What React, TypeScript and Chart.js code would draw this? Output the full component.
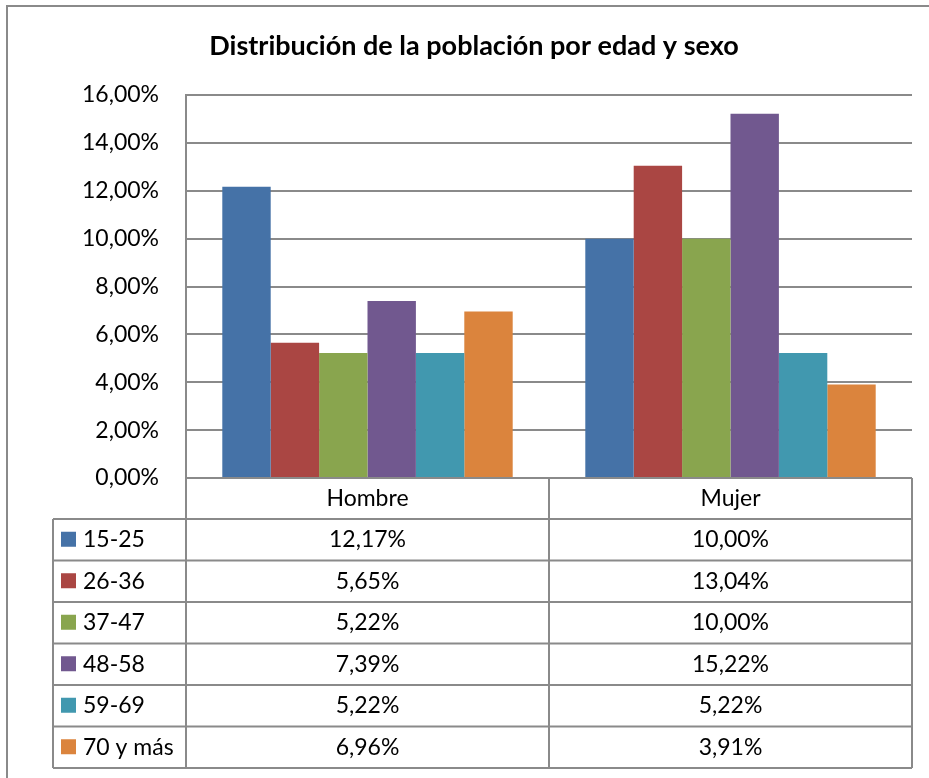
import React, { useEffect, useRef } from 'react';
import { Chart, registerables } from 'chart.js';

Chart.register(...registerables);

const chartTitle = 'Distribución de la población por edad y sexo';
const categories = ['Hombre', 'Mujer'];
const seriesLabels = ['15-25', '26-36', '37-47', '48-58', '59-69', '70 y más'];
const age15to25 = [12.17, 10.0];
const age26to36 = [5.65, 13.04];
const age37to47 = [5.22, 10.0];
const age48to58 = [7.39, 15.22];
const age59to69 = [5.22, 5.22];
const age70plus = [6.96, 3.91];
const seriesValues = [age15to25, age26to36, age37to47, age48to58, age59to69, age70plus];
const seriesColors = ['#4572A7', '#AA4643', '#89A54E', '#71588F', '#4198AF', '#DB843D'];
const yMin = 0;
const yMax = 16;
const yStep = 2;

const FONT = 'Lato, "Open Sans", sans-serif';
const LINE = '#8a8a8a';
const fmt = (v: number) => v.toFixed(2).replace('.', ',') + '%';

const framePlugin = {
  id: 'frameAndTitle',
  beforeDraw(chart: any) {
    const ctx = chart.ctx;
    ctx.save();
    ctx.fillStyle = '#ffffff';
    ctx.fillRect(0, 0, chart.width, chart.height);
    ctx.strokeStyle = LINE;
    ctx.lineWidth = 2;
    ctx.strokeRect(7, 6, chart.width + 20, chart.height + 20);
    ctx.fillStyle = '#000';
    ctx.font = `bold 27px ${FONT}`;
    ctx.textAlign = 'center';
    ctx.textBaseline = 'middle';
    ctx.fillText(chartTitle, 474, 46);
    ctx.restore();
  },
};

const tablePlugin = {
  id: 'dataTable',
  afterDraw(chart: any) {
    const ctx = chart.ctx;
    const { left, right, bottom } = chart.chartArea;
    const xs = chart.scales.x;
    const headerH = 41;
    const rowH = 41.5;
    const legendLeft = 53;
    const n = chart.data.datasets.length;
    const top = bottom;
    const rowsTop = top + headerH;
    const tableBottom = rowsTop + n * rowH;
    const c0 = xs.getPixelForValue(0);
    const c1 = xs.getPixelForValue(1);
    const mid = (c0 + c1) / 2;

    ctx.save();
    ctx.strokeStyle = LINE;
    ctx.lineWidth = 2;
    ctx.beginPath();
    ctx.moveTo(left, top);
    ctx.lineTo(right, top);
    for (let i = 0; i <= n; i++) {
      ctx.moveTo(legendLeft, rowsTop + i * rowH);
      ctx.lineTo(right, rowsTop + i * rowH);
    }
    ctx.moveTo(legendLeft, rowsTop);
    ctx.lineTo(legendLeft, tableBottom);
    ctx.moveTo(left, top);
    ctx.lineTo(left, tableBottom);
    ctx.moveTo(mid, top);
    ctx.lineTo(mid, tableBottom);
    ctx.moveTo(right, top);
    ctx.lineTo(right, tableBottom);
    ctx.stroke();

    ctx.fillStyle = '#000';
    ctx.font = `23px ${FONT}`;
    ctx.textBaseline = 'middle';
    ctx.textAlign = 'center';
    chart.data.labels.forEach((lab: string, j: number) => {
      ctx.fillText(lab, xs.getPixelForValue(j), top + headerH / 2);
    });
    chart.data.datasets.forEach((ds: any, i: number) => {
      const cy = rowsTop + i * rowH + rowH / 2;
      ctx.fillStyle = ds.backgroundColor;
      ctx.fillRect(61, cy - 8, 15, 15);
      ctx.fillStyle = '#000';
      ctx.textAlign = 'left';
      ctx.fillText(ds.label, 83, cy);
      ctx.textAlign = 'center';
      ds.data.forEach((v: number, j: number) => {
        ctx.fillText(fmt(v), xs.getPixelForValue(j), cy);
      });
    });
    ctx.restore();
  },
};

export default function App() {
  const ref = useRef<HTMLCanvasElement>(null);
  useEffect(() => {
    const chart = new Chart(ref.current as HTMLCanvasElement, {
      type: 'bar',
      data: {
        labels: categories,
        datasets: seriesLabels.map((label, i) => ({
          label,
          data: seriesValues[i],
          backgroundColor: seriesColors[i],
          borderWidth: 0,
          categoryPercentage: 0.8,
          barPercentage: 1.0,
        })),
      },
      options: {
        animation: false,
        responsive: false,
        devicePixelRatio: 1,
        layout: { padding: { left: 0, top: 95, right: 17, bottom: 300 } },
        plugins: {
          legend: { display: false },
          title: { display: false },
          tooltip: { enabled: false },
        },
        scales: {
          x: { display: false },
          y: {
            min: yMin,
            max: yMax,
            ticks: {
              stepSize: yStep,
              callback: (v: any) => fmt(Number(v)),
              font: { size: 23, family: FONT },
              color: '#000',
              padding: 27,
            },
            grid: { color: LINE, lineWidth: 2, drawTicks: false },
            border: { color: LINE, width: 2 },
            afterFit: (scale: any) => {
              scale.width = 186;
            },
          },
        },
      },
      plugins: [framePlugin, tablePlugin],
    } as any);
    return () => chart.destroy();
  }, []);
  return (
    <div style={{ position: 'absolute', left: 0, top: 0, width: 929, height: 778, background: '#fff' }}>
      <canvas ref={ref} width={929} height={778} style={{ display: 'block', width: 929, height: 778 }} />
    </div>
  );
}
